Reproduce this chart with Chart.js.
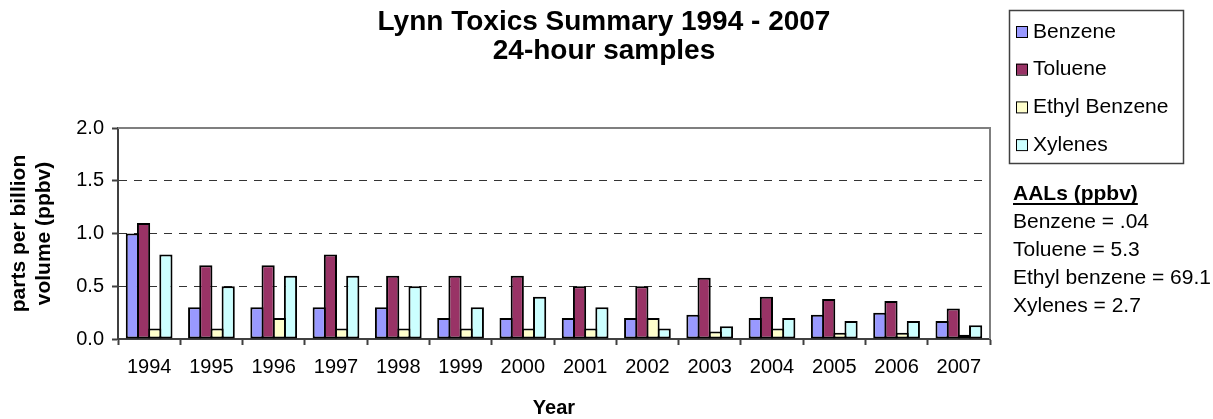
<!DOCTYPE html>
<html>
<head>
<meta charset="utf-8">
<title>Lynn Toxics Summary 1994 - 2007</title>
<script src="https://cdn.jsdelivr.net/npm/chart.js@4/dist/chart.umd.min.js"></script>
<style>
  html, body { margin: 0; padding: 0; background: #ffffff; }
  canvas { display: block; }
</style>
</head>
<body>
<canvas id="chart" width="1213" height="419"></canvas>
<script>
// Annual average concentrations (ppbv), 24-hour samples, Lynn site
const years = ['1994', '1995', '1996', '1997', '1998', '1999', '2000',
               '2001', '2002', '2003', '2004', '2005', '2006', '2007'];
const benzene      = [1.00, 0.30, 0.30, 0.30, 0.30, 0.20, 0.20, 0.20, 0.20, 0.23, 0.20, 0.23, 0.25, 0.17];
const toluene      = [1.10, 0.70, 0.70, 0.80, 0.60, 0.60, 0.60, 0.50, 0.50, 0.58, 0.40, 0.38, 0.36, 0.29];
const ethylBenzene = [0.10, 0.10, 0.20, 0.10, 0.10, 0.10, 0.10, 0.10, 0.20, 0.07, 0.10, 0.06, 0.06, 0.04];
const xylenes      = [0.80, 0.50, 0.60, 0.60, 0.50, 0.30, 0.40, 0.30, 0.10, 0.12, 0.20, 0.17, 0.17, 0.13];

const yTicks = [0, 0.5, 1.0, 1.5, 2.0];

const titleLines = ['Lynn Toxics Summary 1994 - 2007', '24-hour samples'];
const yTitleLines = ['parts per billion', 'volume (ppbv)'];
const xTitle = 'Year';

// Allowable ambient limits shown beside the legend
const aalHeading = 'AALs (ppbv)';
const aalLines = ['Benzene = .04', 'Toluene = 5.3', 'Ethyl benzene = 69.1', 'Xylenes = 2.7'];

const FONT = '"Liberation Sans", Arial, Helvetica, sans-serif';

// Fixed plot box inside the 1213 x 419 canvas
const PLOT = { left: 118, right: 990, top: 128, bottom: 339 };

const annotations = {
  id: 'annotations',
  beforeDatasetsDraw(chart) {
    const ctx = chart.ctx, a = chart.chartArea;
    ctx.save();
    // plot frame (top and right edges; left/bottom are the axes)
    ctx.strokeStyle = '#7f7f7f';
    ctx.lineWidth = 2;
    ctx.beginPath();
    ctx.moveTo(a.left, a.top);
    ctx.lineTo(a.right, a.top);
    ctx.lineTo(a.right, a.bottom);
    ctx.stroke();
    ctx.restore();
  },
  afterDraw(chart) {
    const ctx = chart.ctx, a = chart.chartArea;
    ctx.save();
    ctx.fillStyle = '#000';

    // chart title
    ctx.font = 'bold 28px ' + FONT;
    ctx.textAlign = 'center';
    ctx.textBaseline = 'middle';
    ctx.fillText(titleLines[0], 604, 22);
    ctx.fillText(titleLines[1], 604, 51);

    // x axis title
    ctx.font = 'bold 20px ' + FONT;
    ctx.fillText(xTitle, (a.left + a.right) / 2, 408);

    // y axis title (rotated, two lines)
    ctx.save();
    ctx.translate(0, (a.top + a.bottom) / 2);
    ctx.rotate(-Math.PI / 2);
    ctx.font = 'bold 21px ' + FONT;
    ctx.fillText(yTitleLines[0], 0, 19);
    ctx.fillText(yTitleLines[1], 0, 44);
    ctx.restore();

    // legend box
    const lg = { x: 1009, y: 10, w: 174, h: 153 };
    ctx.strokeStyle = '#404040';
    ctx.lineWidth = 1.5;
    ctx.strokeRect(lg.x + 0.5, lg.y + 0.5, lg.w, lg.h);
    ctx.font = '21px ' + FONT;
    ctx.textAlign = 'left';
    chart.data.datasets.forEach((ds, i) => {
      const cy = 31 + i * 37.7;
      ctx.fillStyle = ds.backgroundColor;
      ctx.fillRect(1016, cy - 5, 11, 11);
      ctx.strokeStyle = '#000';
      ctx.lineWidth = 1;
      ctx.strokeRect(1016.5, cy - 4.5, 11, 11);
      ctx.fillStyle = '#000';
      ctx.fillText(ds.label, 1033, cy + 1);
    });

    // AAL notes
    ctx.font = 'bold 21px ' + FONT;
    ctx.fillText(aalHeading, 1013, 194);
    const hw = ctx.measureText(aalHeading).width;
    ctx.fillRect(1013, 203, hw, 2);
    ctx.font = '21px ' + FONT;
    aalLines.forEach((t, i) => ctx.fillText(t, 1013, 222 + i * 28));

    ctx.restore();
  }
};

// Neighbouring bars overlap by one border width so they share a single outline
const barStyle = {
  borderColor: '#000000',
  borderWidth: 2,
  borderSkipped: false,
  categoryPercentage: 0.718,
  barPercentage: 1.18
};

new Chart(document.getElementById('chart'), {
  type: 'bar',
  data: {
    labels: years,
    datasets: [
      Object.assign({ label: 'Benzene', data: benzene, backgroundColor: '#9999ff' }, barStyle),
      Object.assign({ label: 'Toluene', data: toluene, backgroundColor: '#993366' }, barStyle),
      Object.assign({ label: 'Ethyl Benzene', data: ethylBenzene, backgroundColor: '#ffffcc' }, barStyle),
      Object.assign({ label: 'Xylenes', data: xylenes, backgroundColor: '#ccffff' }, barStyle)
    ]
  },
  options: {
    responsive: false,
    devicePixelRatio: 1,
    animation: false,
    layout: {
      padding: { left: 0, right: 1213 - PLOT.right, top: PLOT.top, bottom: 0 }
    },
    plugins: {
      legend: { display: false },
      title: { display: false },
      tooltip: { enabled: false }
    },
    scales: {
      x: {
        afterFit(scale) { scale.height = 419 - PLOT.bottom; },
        grid: {
          offset: true,
          drawOnChartArea: false,
          drawTicks: true,
          tickLength: 6,
          tickColor: '#404040',
          tickWidth: 2
        },
        border: { display: true, color: '#404040', width: 2 },
        ticks: {
          color: '#000',
          font: { family: FONT, size: 20 },
          padding: 10,
          maxRotation: 0,
          autoSkip: false
        }
      },
      y: {
        min: 0,
        max: 2,
        afterFit(scale) { scale.width = PLOT.left; },
        afterBuildTicks(scale) { scale.ticks = yTicks.map(v => ({ value: v })); },
        grid: {
          color: c => (c.tick && (c.tick.value === 0 || c.tick.value === 2)) ? 'rgba(0,0,0,0)' : '#333333',
          lineWidth: 1,
          drawTicks: true,
          tickLength: 6,
          tickColor: '#404040',
          tickWidth: 2,
          tickBorderDash: []
        },
        border: { display: true, color: '#404040', width: 2, dash: [8, 7] },
        ticks: {
          color: '#000',
          font: { family: FONT, size: 20 },
          padding: 8,
          callback: v => Number(v).toFixed(1)
        }
      }
    }
  },
  plugins: [annotations]
});
</script>
</body>
</html>
